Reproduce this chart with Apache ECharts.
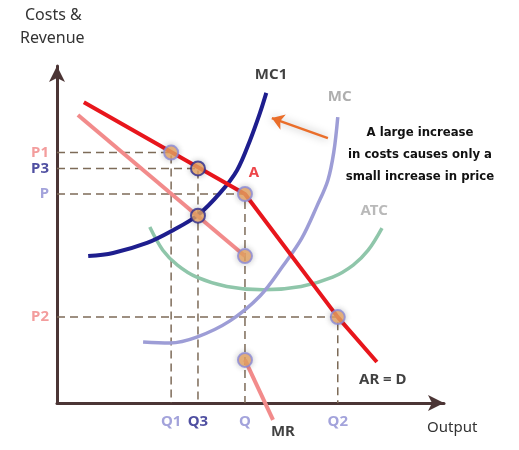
<!DOCTYPE html>
<html><head><meta charset="utf-8">
<script src="https://cdn.jsdelivr.net/npm/echarts@6/dist/echarts.min.js"></script>
<style>html,body{margin:0;padding:0;background:#fff}#c{width:519px;height:450px}</style>
</head><body><div id="c"></div>
<script>
// ---- data (chart units) ----
const qLabels = ['Q1', 'Q3', 'Q', 'Q2'];
const qValues = [28.9, 35.7, 47.6, 71.1];
const pLabels = ['P1', 'P3', 'P', 'P2'];
const pValues = [72.6, 68.0, 60.6, 24.9];

const arCurve = [[6.8, 87.2], [47.6, 60.6], [71.1, 24.9], [81.0, 11.9]];
const mrUpper = [[5.3, 83.5], [47.6, 42.6]];
const mrLower = [[47.6, 12.5], [54.7, -4.9]];
const mc1Curve = [[7.9, 42.6], [14.2, 43.5], [22.8, 46.4], [29.4, 50.1], [35.7, 54.5], [41.3, 60.9], [45.6, 67.5], [48.9, 76.2], [51.4, 84.1], [53.0, 89.9]];
const mcCurve = [[21.8, 17.7], [28.6, 17.4], [35.4, 19.1], [43.8, 23.8], [51.4, 31.0], [57.2, 39.7], [62.0, 47.8], [65.8, 57.0], [68.6, 64.6], [70.1, 72.8], [71.1, 82.9]];
const atcCurve = [[23.5, 51.0], [26.8, 44.3], [30.5, 40.0], [35.4, 36.5], [43.0, 33.8], [52.2, 32.8], [61.8, 33.8], [69.8, 36.5], [75.0, 40.0], [78.8, 44.3], [82.3, 50.7]];
const dotPoints = [[28.9, 72.6], [35.7, 68.0], [47.6, 60.6], [35.7, 54.3], [47.6, 42.6], [47.6, 12.5], [71.1, 24.9]];
const arrowLine = [[68.6, 76.8], [54.4, 82.6]];
const curveNames = ['MC1', 'MC', 'ATC', 'A', 'MR', 'AR = D'];
const curveLabelPos = [[54.2, 95.1], [71.6, 88.7], [80.3, 55.7], [49.9, 66.7], [57.2, -8.4], [82.5, 6.7]];

// ---- styles ----
const FONT = 'Noto Sans, Open Sans, sans-serif';
const qColors = ['#8c8cd2', '#23238a', '#8c8cd2', '#8c8cd2'];
const pColors = ['#f08585', '#23238a', '#8c8cd2', '#f08585'];
const curveLabelStyle = [
  {color: '#111', fontWeight: 'bold', fontSize: 15},
  {color: '#9a9a9a', fontWeight: 'bold', fontSize: 15},
  {color: '#a8a8a8', fontWeight: 'bold', fontSize: 15},
  {color: '#e8161c', fontWeight: 'bold', fontSize: 15},
  {color: '#111', fontWeight: 'bold', fontSize: 15},
  {color: '#111', fontWeight: 'bold', fontSize: 15}
];
const dotBorders = ['#8a8ad8', '#2c2c90', '#8a8ad8', '#2c2c90', '#8a8ad8', '#8a8ad8', '#8a8ad8'];

const chart = echarts.init(document.getElementById('c'), null, {renderer: 'canvas'});

const series = [];
// dashed guide lines
qValues.forEach((q, i) => {
  series.push({
    type: 'line', silent: true, symbol: 'none', z: 1,
    data: [[0, pValues[i]], [q, pValues[i]], [q, 0]],
    lineStyle: {color: '#7d6b58', width: 1.5, type: [8, 5]}
  });
});
const curve = (data, color, width, z) => ({
  type: 'line', data, symbol: 'none', smooth: 0.35, clip: false, z: z || 3,
  lineStyle: {color, width, cap: 'butt'}
});
series.push(curve(atcCurve, '#8fc6aa', 3.5));
series.push(curve(mcCurve, '#9d9dd6', 3.5));
series.push(curve(mc1Curve, '#1e1e8e', 4));
series.push(Object.assign(curve(mrUpper, '#f28b8b', 4), {smooth: false}));
series.push(Object.assign(curve(mrLower, '#f28b8b', 4), {smooth: false}));
series.push(Object.assign(curve(arCurve, '#e8161c', 4, 4), {smooth: false}));
// arrow
series.push({
  type: 'lines', coordinateSystem: 'cartesian2d', z: 5,
  symbol: ['none', 'arrow'], symbolSize: 12,
  lineStyle: {color: '#ea6e2a', width: 2.5, opacity: 1, shadowBlur: 8, shadowColor: 'rgba(0,0,0,0.35)'},
  data: [{coords: arrowLine}]
});
// dots
series.push({
  type: 'scatter', z: 6, symbolSize: 14, clip: false,
  data: dotPoints.map((p, i) => ({value: p, itemStyle: {borderColor: dotBorders[i]}})),
  itemStyle: {color: '#f2ad68', borderWidth: 2, shadowBlur: 6, shadowColor: 'rgba(0,0,0,0.25)'}
});
// Q labels
series.push({
  type: 'scatter', z: 7, symbolSize: 0, clip: false, silent: true,
  data: qValues.map((q, i) => ({value: [q, 0], name: qLabels[i],
    label: {color: qColors[i]}})),
  label: {show: true, position: 'bottom', distance: 11, formatter: '{b}',
    fontFamily: FONT, fontSize: 15, fontWeight: 'bold'}
});
// P labels
series.push({
  type: 'scatter', z: 7, symbolSize: 0, clip: false, silent: true,
  data: pValues.map((p, i) => ({value: [0, p], name: pLabels[i],
    label: {color: pColors[i]}})),
  label: {show: true, position: 'left', distance: 8, formatter: '{b}',
    fontFamily: FONT, fontSize: 15, fontWeight: 'bold'}
});
// curve labels
series.push({
  type: 'scatter', z: 7, symbolSize: 0, clip: false, silent: true,
  data: curveNames.map((n, i) => ({value: curveLabelPos[i], name: n,
    label: Object.assign({}, curveLabelStyle[i])})),
  label: {show: true, position: 'inside', formatter: '{b}', fontFamily: FONT}
});

chart.setOption({
  animation: false,
  backgroundColor: '#fff',
  grid: {left: 57, right: 75, top: 66, bottom: 47},
  xAxis: {
    type: 'value', min: 0, max: 98,
    axisLine: {show: true, symbol: ['none', 'arrow'], symbolSize: [12, 16], lineStyle: {color: '#4b3535', width: 3}},
    axisTick: {show: false}, axisLabel: {show: false}, splitLine: {show: false}
  },
  yAxis: {
    type: 'value', min: 0, max: 97.7,
    axisLine: {show: true, symbol: ['none', 'arrow'], symbolSize: [12, 16], lineStyle: {color: '#4b3535', width: 3}},
    axisTick: {show: false}, axisLabel: {show: false}, splitLine: {show: false}
  },
  graphic: [
    {type: 'text', left: 25, top: 7, style: {text: 'Costs &', font: '16px ' + FONT, fill: '#333'}},
    {type: 'text', left: 20, top: 30, style: {text: 'Revenue', font: '16px ' + FONT, fill: '#333'}},
    {type: 'text', left: 427, top: 420, style: {text: 'Output', font: '15px ' + FONT, fill: '#333'}},
    {type: 'text', x: 420, y: 122, style: {text: 'A large increase\nin costs causes only a\nsmall increase in price',
      font: 'bold 13px "Liberation Sans Narrow", "DejaVu Sans Condensed", Roboto, sans-serif', fill: '#111',
      align: 'center', lineHeight: 22}}
  ],
  series
});
</script></body></html>
